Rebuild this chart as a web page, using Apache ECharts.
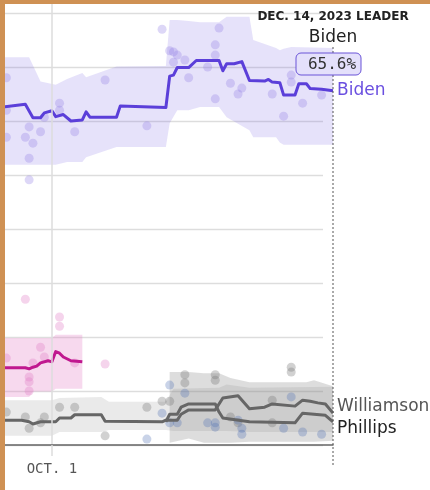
<!DOCTYPE html>
<html>
<head>
<meta charset="utf-8">
<script src="https://cdn.jsdelivr.net/npm/echarts@6.0.0/dist/echarts.min.js"></script>
<style>
  html, body { margin: 0; padding: 0; background: #fff; }
  #wrap { position: relative; width: 430px; height: 490px; overflow: hidden; }
  #chart { position: absolute; left: 0; top: 0; width: 430px; height: 490px; }
  .frame { position: absolute; background: #cf9154; }
</style>
</head>
<body>
<div id="wrap">
  <div id="chart"></div>
  <div class="frame" style="left:0;top:0;width:430px;height:4px"></div>
  <div class="frame" style="left:0;top:0;width:5px;height:490px"></div>
</div>
<script>
// polling averages (%)
var bidenAvg = [
	['2023-09-18', 62.6], ['2023-09-24', 63.1], ['2023-09-26', 60.6], ['2023-09-28', 60.6],
	['2023-09-29', 61.5], ['2023-10-01', 61.9], ['2023-10-02', 60.8], ['2023-10-04', 61.2],
	['2023-10-06', 60.0], ['2023-10-09', 60.2], ['2023-10-10', 61.7], ['2023-10-11', 60.7],
	['2023-10-18', 60.7], ['2023-10-19', 62.8], ['2023-10-31', 62.5], ['2023-11-01', 68.3],
	['2023-11-02', 68.5], ['2023-11-03', 69.9], ['2023-11-06', 69.9], ['2023-11-08', 71.2],
	['2023-11-14', 71.2], ['2023-11-15', 69.3], ['2023-11-16', 70.6], ['2023-11-18', 70.6],
	['2023-11-20', 71.0], ['2023-11-22', 67.5], ['2023-11-26', 67.4], ['2023-11-27', 67.7],
	['2023-11-28', 67.2], ['2023-11-30', 67.1], ['2023-12-01', 64.8], ['2023-12-04', 64.8],
	['2023-12-05', 66.9], ['2023-12-07', 66.9], ['2023-12-08', 66.0], ['2023-12-11', 65.9],
	['2023-12-14', 65.6]
];
var kennedyAvg = [
	['2023-09-18', 14.3], ['2023-09-24', 14.3], ['2023-09-25', 14.1], ['2023-09-26', 14.4],
	['2023-09-27', 14.6], ['2023-09-28', 15.2], ['2023-09-30', 15.6], ['2023-10-01', 15.4],
	['2023-10-02', 17.3], ['2023-10-03', 17.0], ['2023-10-04', 16.3], ['2023-10-06', 15.6],
	['2023-10-09', 15.4]
];
var williamsonAvg = [
	['2023-09-18', 4.6], ['2023-09-23', 4.6], ['2023-09-25', 4.3], ['2023-09-26', 3.9],
	['2023-09-28', 4.3], ['2023-10-02', 4.3], ['2023-10-03', 5.0], ['2023-10-06', 5.0],
	['2023-10-07', 5.6], ['2023-10-14', 5.6], ['2023-10-15', 4.4], ['2023-10-30', 4.3],
	['2023-10-31', 4.6], ['2023-11-03', 4.6], ['2023-11-04', 5.7], ['2023-11-06', 6.5],
	['2023-11-13', 6.5], ['2023-11-15', 8.7], ['2023-11-19', 9.1], ['2023-11-22', 6.7],
	['2023-11-26', 7.0], ['2023-11-28', 7.6], ['2023-12-04', 7.2], ['2023-12-06', 8.3],
	['2023-12-08', 8.1], ['2023-12-10', 7.8], ['2023-12-12', 7.6], ['2023-12-14', 5.9]
];
var phillipsAvg = [
	['2023-10-31', 4.3], ['2023-11-01', 5.7], ['2023-11-03', 5.7], ['2023-11-04', 7.0],
	['2023-11-06', 7.6], ['2023-11-13', 7.6], ['2023-11-14', 6.1], ['2023-11-15', 5.0],
	['2023-11-22', 4.3], ['2023-12-04', 4.1], ['2023-12-06', 5.9], ['2023-12-12', 5.5],
	['2023-12-14', 4.3]
];

// uncertainty bands: [date, low, high]
var bidenBand = [
	['2023-09-18', 51.9, 71.8], ['2023-09-25', 51.9, 71.8], ['2023-09-28', 51.9, 67.3],
	['2023-10-02', 51.9, 66.7], ['2023-10-05', 52.4, 67.8], ['2023-10-09', 52.4, 68.9],
	['2023-10-10', 53.3, 68.1], ['2023-10-18', 55.2, 70.1], ['2023-10-31', 55.2, 70.2],
	['2023-11-01', 59.6, 78.7], ['2023-11-03', 62.0, 78.7], ['2023-11-06', 62.0, 78.5],
	['2023-11-09', 62.6, 78.3], ['2023-11-14', 62.6, 78.3], ['2023-11-16', 60.7, 79.3],
	['2023-11-22', 58.3, 79.3], ['2023-11-23', 57.0, 75.0], ['2023-11-29', 57.0, 73.5],
	['2023-11-30', 56.0, 73.1], ['2023-12-01', 55.6, 73.4], ['2023-12-03', 55.6, 73.7],
	['2023-12-14', 55.6, 73.5]
];
var kennedyBand = [
	['2023-09-18', 8.9, 19.8], ['2023-09-25', 8.9, 19.8], ['2023-09-26', 9.9, 19.8],
	['2023-10-01', 9.9, 19.8], ['2023-10-02', 10.4, 20.4], ['2023-10-09', 10.4, 20.4]
];
var williamsonBand = [
	['2023-09-18', 1.7, 8.3], ['2023-10-01', 1.7, 8.3], ['2023-10-03', 2.4, 8.7],
	['2023-10-14', 2.4, 8.9], ['2023-10-16', 2.8, 8.0], ['2023-10-31', 2.8, 8.0],
	['2023-11-02', 2.6, 10.4], ['2023-11-14', 2.6, 10.6], ['2023-11-16', 2.6, 11.2],
	['2023-11-22', 2.4, 10.6], ['2023-12-14', 2.4, 10.8]
];
var phillipsBand = [
	['2023-11-01', 0.4, 13.5], ['2023-11-06', 1.2, 13.5], ['2023-11-10', 0.4, 13.3],
	['2023-11-14', 0.4, 13.3], ['2023-11-17', 0.4, 12.4], ['2023-11-22', 0.6, 11.6],
	['2023-12-07', 0.6, 11.6], ['2023-12-09', 0.6, 12.0], ['2023-12-14', 0.8, 10.9]
];

// individual polls
var bidenPolls = [
	['2023-09-19', 68.0], ['2023-09-19', 62.0], ['2023-09-19', 57.0], ['2023-09-24', 57.0],
	['2023-09-25', 58.9], ['2023-09-25', 53.1], ['2023-09-25', 49.1], ['2023-09-26', 55.9],
	['2023-09-28', 58.0], ['2023-09-29', 60.7], ['2023-10-03', 63.3], ['2023-10-03', 62.0],
	['2023-10-07', 58.0], ['2023-10-15', 67.6], ['2023-10-26', 59.1], ['2023-10-30', 77.0],
	['2023-11-01', 73.0], ['2023-11-02', 72.8], ['2023-11-03', 72.2], ['2023-11-02', 70.9],
	['2023-11-05', 71.3], ['2023-11-06', 68.0], ['2023-11-11', 70.0], ['2023-11-13', 74.1],
	['2023-11-13', 72.2], ['2023-11-13', 64.1], ['2023-11-14', 77.2], ['2023-11-17', 67.0],
	['2023-11-19', 65.0], ['2023-11-20', 66.1], ['2023-11-28', 65.0], ['2023-12-01', 60.9],
	['2023-12-03', 68.5], ['2023-12-03', 67.2], ['2023-12-06', 63.3], ['2023-12-11', 64.8]
];
var kennedyPolls = [
	['2023-09-18', 25.0], ['2023-09-24', 27.0], ['2023-10-03', 23.7], ['2023-10-03', 22.0],
	['2023-09-28', 18.1], ['2023-09-29', 16.3], ['2023-09-26', 15.2], ['2023-09-19', 16.1],
	['2023-09-25', 12.6], ['2023-09-25', 11.7], ['2023-09-25', 10.0], ['2023-10-07', 15.2],
	['2023-10-15', 15.0]
];
var williamsonPolls = [
	['2023-09-18', 3.9], ['2023-09-19', 6.1], ['2023-09-24', 5.2], ['2023-09-25', 3.1],
	['2023-09-28', 4.1], ['2023-09-29', 5.2], ['2023-10-03', 7.0], ['2023-10-07', 7.0],
	['2023-10-15', 1.7], ['2023-10-26', 7.0], ['2023-10-30', 8.1], ['2023-11-01', 8.1],
	['2023-11-05', 11.5], ['2023-11-05', 13.0], ['2023-11-13', 13.0], ['2023-11-13', 12.0],
	['2023-11-17', 5.2], ['2023-11-19', 4.1], ['2023-11-28', 8.3], ['2023-11-28', 4.1],
	['2023-12-03', 14.4], ['2023-12-03', 13.5]
];
var phillipsPolls = [
	['2023-10-26', 1.1], ['2023-10-30', 5.9], ['2023-11-01', 11.1], ['2023-11-01', 4.1],
	['2023-11-03', 4.1], ['2023-11-05', 9.6], ['2023-11-11', 4.1], ['2023-11-13', 4.1],
	['2023-11-13', 3.3], ['2023-11-19', 4.6], ['2023-11-20', 3.1], ['2023-11-20', 2.0],
	['2023-12-01', 3.1], ['2023-12-03', 8.9], ['2023-12-06', 2.4], ['2023-12-11', 2.0]
];

var gridTicks = [0, 10, 20, 30, 40, 50, 60, 70, 80];
var startTime = new Date(2023, 8, 18, 15, 30).getTime();
var octFirst = new Date(2023, 9, 1).getTime();
var leaderDate = new Date(2023, 11, 14).getTime();
var leaderName = 'Biden';
var leaderValue = '65.6%';

(function () {

	var SANS = '"DejaVu Sans", sans-serif';
	var MONO = '"DejaVu Sans Mono", monospace';

	// band polygon drawn once, from every row, through the axis scales
	function band(rows, color) {
		return {
			type: 'custom',
			data: rows,
			encode: { x: 0, y: [1, 2] },
			clip: true,
			silent: true,
			z: 1,
			renderItem: function (params, api) {
				if (params.dataIndex !== 0) return null;
				var top = [], bottom = [];
				for (var i = 0; i < rows.length; i++) {
					top.push(api.coord([api.value(0, i), api.value(2, i)]));
					bottom.unshift(api.coord([api.value(0, i), api.value(1, i)]));
				}
				return {
					type: 'polygon',
					shape: { points: top.concat(bottom) },
					style: { fill: color }
				};
			}
		};
	}

	function dots(rows, color) {
		return {
			type: 'scatter',
			data: rows,
			symbolSize: 9,
			silent: true,
			z: 2,
			itemStyle: { color: color }
		};
	}

	function line(rows, color, label) {
		return {
			type: 'line',
			data: rows,
			showSymbol: false,
			silent: true,
			z: 3,
			lineStyle: { color: color, width: 3, join: 'round' },
			endLabel: label
		};
	}

	var option = {
		animation: false,
		backgroundColor: '#fff',
		grid: [
			{ left: 5, right: 97, top: 4, bottom: 45 },
			{ left: 5, right: 107, top: 13, bottom: 45 }
		],
		xAxis: [
			// the series live on this one
			{ type: 'time', gridIndex: 0, min: startTime, max: leaderDate, show: false },
			{ type: 'value', gridIndex: 1, min: 0, max: 1, show: false },
			// same span, only for the Oct 1 gridline, tick and label
			{
				type: 'value',
				gridIndex: 0,
				position: 'bottom',
				min: startTime,
				max: leaderDate,
				z: 10,
				axisLine: { lineStyle: { color: '#666', width: 1.5 } },
				axisTick: {
					show: true,
					customValues: [octFirst],
					length: 11,
					lineStyle: { color: '#ddd', width: 1.5 }
				},
				axisLabel: {
					customValues: [octFirst],
					formatter: function () { return 'OCT. 1'; },
					margin: 17,
					color: '#555',
					fontFamily: MONO,
					fontSize: 14
				},
				splitLine: { show: true, lineStyle: { color: '#ddd', width: 1.5 } }
			}
		],
		yAxis: [
			{ type: 'value', gridIndex: 0, min: 0, max: 441 / 5.4, show: false },
			{
				type: 'value',
				gridIndex: 1,
				min: gridTicks[0],
				max: gridTicks[gridTicks.length - 1],
				interval: 10,
				axisLine: { show: false },
				axisTick: { show: false },
				axisLabel: { show: false },
				splitLine: { lineStyle: { color: '#ddd', width: 1.3 } }
			}
		],
		series: [
			band(bidenBand, 'rgba(130,110,230,0.2)'),
			band(kennedyBand, 'rgba(230,130,200,0.3)'),
			band(williamsonBand, 'rgba(160,160,160,0.22)'),
			band(phillipsBand, 'rgba(120,120,120,0.25)'),
			dots(bidenPolls, 'rgba(150,130,230,0.4)'),
			dots(kennedyPolls, 'rgba(225,120,195,0.4)'),
			dots(williamsonPolls, 'rgba(120,120,120,0.42)'),
			dots(phillipsPolls, 'rgba(80,110,180,0.38)'),
			line(kennedyAvg, '#c0188f'),
			line(williamsonAvg, '#666', {
				show: true, formatter: 'Williamson', distance: 4, offset: [0, -7],
				color: '#555', fontFamily: SANS, fontSize: 17
			}),
			line(phillipsAvg, '#666', {
				show: true, formatter: 'Phillips', distance: 4, offset: [0, 7],
				color: '#222', fontFamily: SANS, fontSize: 17
			}),
			line(bidenAvg, '#5b3fd9', {
				show: true, formatter: 'Biden', distance: 4,
				color: '#6a4fe0', fontFamily: SANS, fontSize: 17
			})
		]
	};

	var chart = echarts.init(document.getElementById('chart'), null, { renderer: 'canvas' });
	chart.setOption(option);

	// leader annotation hangs off the last date
	var x = chart.convertToPixel({ xAxisIndex: 0 }, leaderDate);
	chart.setOption({
		graphic: [
			{
				type: 'line', silent: true, z: 20,
				shape: { x1: x, y1: 47, x2: x, y2: 465 },
				style: { stroke: '#555', lineWidth: 1, lineDash: [2, 2] }
			},
			{
				type: 'text', x: x, y: 17, z: 20,
				style: { text: 'DEC. 14, 2023 LEADER', font: 'bold 12px ' + SANS, fill: '#222', align: 'center', verticalAlign: 'middle' }
			},
			{
				type: 'text', x: x, y: 38, z: 20,
				style: { text: leaderName, font: '17px ' + SANS, fill: '#222', align: 'center', verticalAlign: 'middle' }
			},
			{
				type: 'rect', x: x - 37, y: 53, z: 20,
				shape: { width: 65, height: 22, r: 5 },
				style: { fill: '#e4e0fb', stroke: '#6b55d8', lineWidth: 1 }
			},
			{
				type: 'text', x: x - 1, y: 64.5, z: 21,
				style: { text: leaderValue, font: '16px ' + MONO, fill: '#333', align: 'center', verticalAlign: 'middle' }
			}
		]
	});

})();
</script>
</body>
</html>
